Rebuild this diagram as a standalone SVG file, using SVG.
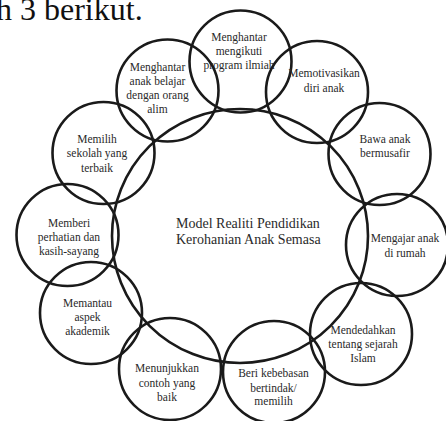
<svg xmlns="http://www.w3.org/2000/svg" width="446" height="421" viewBox="0 0 446 421">
<style>
.c{fill:none;stroke:#1a1a1a;stroke-width:2.6}
.t{font-family:"Liberation Serif","Times New Roman",serif;font-size:11.5px;fill:#2a2a2a;text-anchor:middle}
.m{font-family:"Liberation Serif","Times New Roman",serif;font-size:14px;fill:#2a2a2a}
.h{font-family:"Liberation Serif","Times New Roman",serif;font-size:32px;fill:#111}
</style>
<rect width="446" height="421" fill="#fff"/>
<text class="h" x="-4" y="19.5">h 3 berikut.</text>
<g id="center">
<ellipse class="c" cx="240" cy="236" rx="128" ry="127"/>
<text class="m" x="176" y="228">Model Realiti Pendidikan</text>
<text class="m" x="176" y="244">Kerohanian Anak Semasa</text>
</g>
<g id="n1">
<circle class="c" cx="240.5" cy="61.5" r="51"/>
<text class="t" x="239" y="41">Menghantar</text>
<text class="t" x="239" y="55">mengikuti</text>
<text class="t" x="239" y="69">program ilmiah</text>
</g>
<g id="n2">
<circle class="c" cx="167.5" cy="90.5" r="51"/>
<text class="t" x="157.5" y="71">Menghantar</text>
<text class="t" x="157.5" y="84.5">anak belajar</text>
<text class="t" x="157.5" y="99">dengan orang</text>
<text class="t" x="157.5" y="112.5">alim</text>
</g>
<g id="n3">
<circle class="c" cx="317" cy="92" r="51"/>
<text class="t" x="324" y="77">Memotivasikan</text>
<text class="t" x="324" y="91.5">diri anak</text>
</g>
<g id="n4">
<circle class="c" cx="379.5" cy="154" r="51"/>
<text class="t" x="385" y="143">Bawa anak</text>
<text class="t" x="385" y="157">bermusafir</text>
</g>
<g id="n5">
<circle class="c" cx="397" cy="245" r="51"/>
<text class="t" x="405" y="242">Mengajar anak</text>
<text class="t" x="405" y="257">di rumah</text>
</g>
<g id="n6">
<circle class="c" cx="361" cy="334" r="51"/>
<text class="t" x="363" y="334">Mendedahkan</text>
<text class="t" x="363" y="348">tentang sejarah</text>
<text class="t" x="363" y="362">Islam</text>
</g>
<g id="n7">
<circle class="c" cx="274" cy="372" r="51"/>
<text class="t" x="273.5" y="377">Beri kebebasan</text>
<text class="t" x="273.5" y="391.5">bertindak/</text>
<text class="t" x="273.5" y="405">memilih</text>
</g>
<g id="n8">
<circle class="c" cx="170" cy="369" r="51"/>
<text class="t" x="167" y="372">Menunjukkan</text>
<text class="t" x="167" y="386.5">contoh yang</text>
<text class="t" x="167" y="401">baik</text>
</g>
<g id="n9">
<circle class="c" cx="91" cy="313" r="51"/>
<text class="t" x="87.5" y="307">Memantau</text>
<text class="t" x="87.5" y="321">aspek</text>
<text class="t" x="87.5" y="334.5">akademik</text>
</g>
<g id="n10">
<circle class="c" cx="67.5" cy="235" r="51"/>
<text class="t" x="69" y="227">Memberi</text>
<text class="t" x="69" y="241">perhatian dan</text>
<text class="t" x="69" y="255">kasih-sayang</text>
</g>
<g id="n11">
<circle class="c" cx="103.5" cy="153" r="51"/>
<text class="t" x="97" y="143">Memilih</text>
<text class="t" x="97" y="157">sekolah yang</text>
<text class="t" x="97" y="172">terbaik</text>
</g>
<g id="connectors"/>
</svg>
